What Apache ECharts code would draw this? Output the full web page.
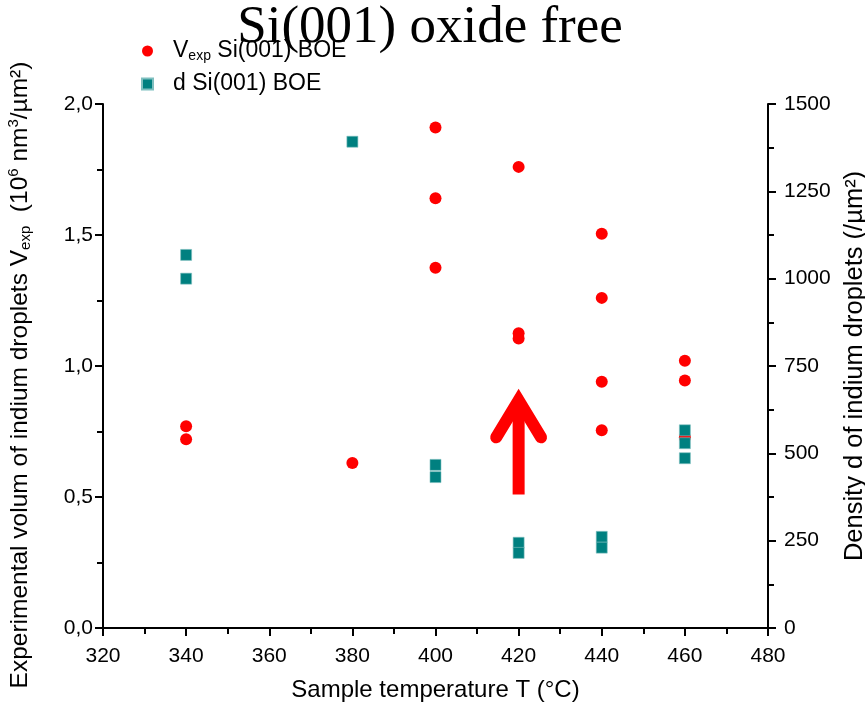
<!DOCTYPE html>
<html>
<head>
<meta charset="utf-8">
<script src="https://cdn.jsdelivr.net/npm/echarts@6/dist/echarts.min.js"></script>
<style>html,body{margin:0;padding:0;background:#fff}#c{width:865px;height:716px}</style>
</head>
<body>
<div id="c"></div>
<script>
// ---- data ----
const temperatures = [340, 340, 380, 400, 400, 400, 420, 420, 420, 440, 440, 440, 440, 460, 460, 460];
const volumeValues = [0.77, 0.72, 0.63, 1.91, 1.64, 1.375, 1.76, 1.125, 1.105, 1.505, 1.26, 0.94, 0.755, 1.02, 0.945, 0.728];
const densityTemps = [340, 340, 380, 400, 400, 420, 420, 440, 440, 460, 460, 460];
const densityValues = [1068, 1000, 1392, 467, 432, 244, 215, 261, 230, 566, 529, 486];
const xTicks = [320, 340, 360, 380, 400, 420, 440, 460, 480];
const leftTicks = [0, 0.5, 1.0, 1.5, 2.0];
const rightTicks = [0, 250, 500, 750, 1000, 1250, 1500];
// annotation arrow (data coordinates)
const arrowShaft = [[420, 0.51], [420, 0.869]];
const arrowHead = [[414.6, 0.728], [420, 0.869], [425.4, 0.728]];

const FONT = 'Liberation Sans, Arial, sans-serif';
const volData = temperatures.map((t, i) => [t, volumeValues[i]]);
const denData = densityTemps.map((t, i) => [t, densityValues[i]]);

const chart = echarts.init(document.getElementById('c'), null, {renderer: 'canvas'});
const axisCommon = {
  axisLine: {show: true, lineStyle: {color: '#000', width: 2}},
  axisTick: {show: true, inside: false, length: 8, lineStyle: {color: '#000', width: 2}},
  minorTick: {show: true, splitNumber: 2, length: 6, lineStyle: {color: '#000', width: 2}},
  splitLine: {show: false},
  axisLabel: {color: '#000', fontSize: 21, fontFamily: FONT, margin: 10}
};
const nameRich = {
  a: {fontSize: 24.5, fontFamily: FONT, color: '#000', lineHeight: 27, verticalAlign: 'bottom'},
  sub: {fontSize: 15, fontFamily: FONT, color: '#000', lineHeight: 15, verticalAlign: 'bottom'},
  sup: {fontSize: 15, fontFamily: FONT, color: '#000', lineHeight: 15, verticalAlign: 'top'}
};
chart.setOption({
  animation: false,
  backgroundColor: '#fff',
  title: {
    text: 'Si(001) oxide free', left: 425, textAlign: 'center', top: -3,
    textStyle: {fontFamily: 'Liberation Serif, Times New Roman, serif', fontSize: 53, fontWeight: 'normal', color: '#000'}
  },
  legend: {
    orient: 'vertical', left: 136, top: 28, itemGap: 9, itemWidth: 11, itemHeight: 11,
    data: [{name: 'vexp', icon: 'circle'}, {name: 'dens', icon: 'rect'}],
    formatter: function (n) { return n === 'vexp' ? '{a|V}{sub|exp}{a| Si(001) BOE}' : '{a|d Si(001) BOE}'; },
    textStyle: {
      padding: [0, 0, 0, 15],
      rich: {
        a: {fontSize: 23, fontFamily: FONT, color: '#000', lineHeight: 24, verticalAlign: 'top'},
        sub: {fontSize: 14, fontFamily: FONT, color: '#000', lineHeight: 14, verticalAlign: 'bottom', padding: [16, 0, 0, 0]}
      }
    }
  },
  grid: {left: 103, right: 97, top: 104, bottom: 88, containLabel: false, outerBoundsMode: 'none'},
  xAxis: Object.assign({}, axisCommon, {
    type: 'value', min: xTicks[0], max: xTicks[xTicks.length - 1], interval: 20,
    axisLabel: Object.assign({}, axisCommon.axisLabel, {margin: 18}),
    name: 'Sample temperature T (°C)', nameLocation: 'middle', nameGap: 50,
    nameTextStyle: {fontSize: 24, fontFamily: FONT, color: '#000'}
  }),
  yAxis: [
    Object.assign({}, axisCommon, {
      type: 'value', position: 'left', min: leftTicks[0], max: leftTicks[leftTicks.length - 1], interval: 0.5,
      axisLabel: Object.assign({}, axisCommon.axisLabel, {formatter: v => v.toFixed(1).replace('.', ',')}),
      name: '{a|Experimental volum of indium droplets V}{sub|exp}{a|  (10}{sup|6}{a| nm}{sup|3}{a|/µm²)}',
      nameLocation: 'middle', nameGap: 70, nameRotate: 90,
      nameTextStyle: {rich: nameRich, padding: [0, 18, 0, 0]}
    }),
    Object.assign({}, axisCommon, {
      type: 'value', position: 'right', min: rightTicks[0], max: rightTicks[rightTicks.length - 1], interval: 250,
      axisLabel: Object.assign({}, axisCommon.axisLabel, {margin: 16, formatter: v => String(v)}),
      name: 'Density d of indium droplets (/µm²)', nameLocation: 'middle', nameGap: 69, nameRotate: 90,
      nameTextStyle: {fontSize: 25.5, fontFamily: FONT, color: '#000'}
    })
  ],
  series: [
    {name: 'vexp', type: 'scatter', yAxisIndex: 0, data: volData, symbol: 'circle', symbolSize: 12,
      itemStyle: {color: '#ff0000', opacity: 1}, z: 3},
    {name: 'dens', type: 'scatter', yAxisIndex: 1, data: denData, symbol: 'rect', symbolSize: 11,
      itemStyle: {color: '#008080', opacity: 1, borderColor: '#7fbfbf', borderWidth: 0.6}, z: 4},
    {name: 'arrowShaft', type: 'line', yAxisIndex: 0, data: arrowShaft, symbol: 'none', silent: true,
      lineStyle: {color: '#ff0000', width: 12, cap: 'butt'}, z: 5},
    {name: 'arrowHead', type: 'line', yAxisIndex: 0, data: arrowHead, symbol: 'none', silent: true,
      lineStyle: {color: '#ff0000', width: 12, cap: 'round', join: 'miter'}, z: 5}
  ]
});
</script>
</body>
</html>
